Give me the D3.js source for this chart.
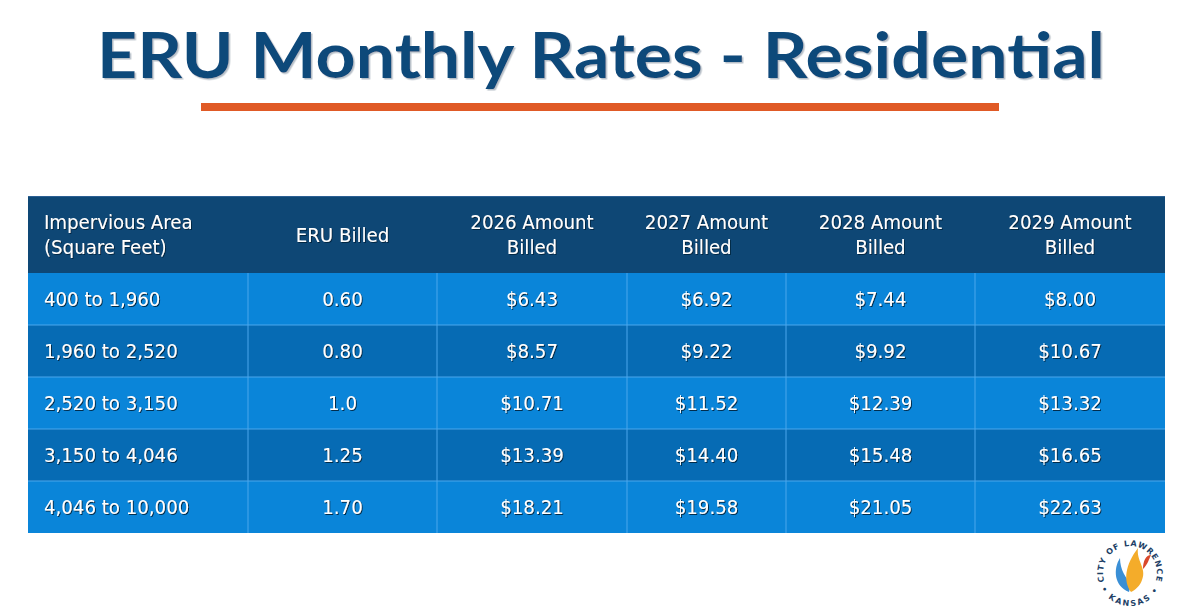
<!DOCTYPE html>
<html lang="en">
<head>
    <meta charset="UTF-8">
    <title>ERU Monthly Rates - Residential</title>
    <script src="https://cdn.jsdelivr.net/npm/d3@7"></script>
    <style>
        body { margin: 0; background: #fff; }
        svg { display: block; }
        .cell-text {
            font-family: "DejaVu Sans Condensed", "DejaVu Sans", sans-serif;
            font-stretch: condensed;
            font-size: 20.2px;
            fill: #fff;
        }
        .title {
            font-family: Lato, "Open Sans", sans-serif;
            font-weight: bold;
            font-size: 63px;
            fill: #0f487a;
        }
        .seal {
            font-family: "DejaVu Sans", sans-serif;
            font-weight: bold;
            font-size: 8px;
            fill: #1d3f66;
        }
    </style>
</head>
<body>
    <svg id="chart" width="1200" height="608"></svg>
    <script>
    // table content
    const headerLines = [
        ["Impervious Area", "(Square Feet)"],
        ["ERU Billed"],
        ["2026 Amount", "Billed"],
        ["2027 Amount", "Billed"],
        ["2028 Amount", "Billed"],
        ["2029 Amount", "Billed"]
    ];
    const areaRanges = ["400 to 1,960", "1,960 to 2,520", "2,520 to 3,150", "3,150 to 4,046", "4,046 to 10,000"];
    const eruBilled = ["0.60", "0.80", "1.0", "1.25", "1.70"];
    const amount2026 = [6.43, 8.57, 10.71, 13.39, 18.21];
    const amount2027 = [6.92, 9.22, 11.52, 14.40, 19.58];
    const amount2028 = [7.44, 9.92, 12.39, 15.48, 21.05];
    const amount2029 = [8.00, 10.67, 13.32, 16.65, 22.63];

    const svg = d3.select("#chart");
    const money = d3.format("$.2f");

    const defs = svg.append("defs");
    // dark shadow on the white table text
    defs.append("filter").attr("id", "txtShadow")
        .attr("x", "-10%").attr("y", "-30%").attr("width", "130%").attr("height", "170%")
        .append("feDropShadow")
        .attr("dx", 1).attr("dy", 1).attr("stdDeviation", 0.4)
        .attr("flood-color", "#06223d").attr("flood-opacity", 0.9);
    // soft grey shadow on the title
    defs.append("filter").attr("id", "titleShadow")
        .attr("x", "-5%").attr("y", "-30%").attr("width", "110%").attr("height", "170%")
        .append("feDropShadow")
        .attr("dx", 1.5).attr("dy", 1.5).attr("stdDeviation", 0.6)
        .attr("flood-color", "#8795a3").attr("flood-opacity", 0.6);

    // title + orange rule
    svg.append("text")
        .attr("class", "title")
        .text("ERU Monthly Rates - Residential")
        .attr("x", 97)
        .attr("y", 78)
        .attr("textLength", 1008)
        .attr("lengthAdjust", "spacingAndGlyphs")
        .attr("filter", "url(#titleShadow)");

    svg.append("rect")
        .attr("x", 201).attr("y", 103)
        .attr("width", 798).attr("height", 8)
        .style("fill", "#e05a26");

    // table geometry
    const tableLeft = 28, headerTop = 196, headerBottom = 273, tableBottom = 533;
    const colWidths = [220, 189, 190, 159, 189, 190];
    const colEdges = [tableLeft];
    colWidths.forEach(w => colEdges.push(colEdges[colEdges.length - 1] + w));
    const tableRight = colEdges[colEdges.length - 1];

    const rowIdx = d3.range(areaRanges.length);
    const y = d3.scaleBand().domain(rowIdx).range([headerBottom, tableBottom]);

    // body rows as arrays of display strings
    const rows = rowIdx.map(i => [
        areaRanges[i], eruBilled[i],
        money(amount2026[i]), money(amount2027[i]), money(amount2028[i]), money(amount2029[i])
    ]);

    // header band
    svg.append("rect")
        .attr("x", tableLeft).attr("y", headerTop)
        .attr("width", tableRight - tableLeft).attr("height", headerBottom - headerTop)
        .style("fill", "#0e4775");
    svg.append("line")
        .attr("x1", tableLeft).attr("x2", tableRight)
        .attr("y1", headerTop + 0.5).attr("y2", headerTop + 0.5)
        .style("stroke", "#2b5f93");

    // row bands (alternating)
    svg.selectAll("rect.row")
        .data(rowIdx)
        .join("rect")
        .attr("class", "row")
        .attr("x", tableLeft)
        .attr("y", d => y(d))
        .attr("width", tableRight - tableLeft)
        .attr("height", y.bandwidth())
        .style("fill", d => d % 2 === 0 ? "#0a85d9" : "#066bb4");

    // grid lines in body
    svg.selectAll("line.hgrid")
        .data(rowIdx.slice(1))
        .join("line")
        .attr("class", "hgrid")
        .attr("x1", tableLeft).attr("x2", tableRight)
        .attr("y1", d => y(d)).attr("y2", d => y(d))
        .style("stroke", "#4aa7ec").style("stroke-width", 1);

    svg.selectAll("line.vgrid")
        .data(colEdges.slice(1, -1))
        .join("line")
        .attr("class", "vgrid")
        .attr("x1", d => d).attr("x2", d => d)
        .attr("y1", headerBottom).attr("y2", tableBottom)
        .style("stroke", "#4aa7ec").style("stroke-width", 1);

    const colX = j => j === 0 ? colEdges[0] + 16 : (colEdges[j] + colEdges[j + 1]) / 2;
    const colAnchor = j => j === 0 ? "start" : "middle";

    // header text
    headerLines.forEach((lines, j) => {
        const mid = (headerTop + headerBottom) / 2;
        const lh = 25;
        const t = svg.append("text")
            .attr("class", "cell-text")
            .attr("text-anchor", colAnchor(j))
            .attr("filter", "url(#txtShadow)");
        lines.forEach((ln, k) => {
            t.append("tspan")
                .attr("x", colX(j))
                .attr("y", mid + 7 + (k - (lines.length - 1) / 2) * lh)
                .text(ln);
        });
    });

    // body text
    rows.forEach((r, i) => {
        svg.selectAll(null)
            .data(r)
            .join("text")
            .attr("class", "cell-text")
            .attr("x", (d, j) => colX(j))
            .attr("y", y(i) + y.bandwidth() / 2 + 7)
            .attr("text-anchor", (d, j) => colAnchor(j))
            .attr("filter", "url(#txtShadow)")
            .text(d => d);
    });

    // City of Lawrence seal (rough)
    const cx = 1130, cy = 573;
    const logo = svg.append("g");
    const a0 = 0.6, rTop = 27;
    defs.append("path").attr("id", "arcTop")
        .attr("d", `M ${cx - rTop * Math.cos(a0)} ${cy + rTop * Math.sin(a0)} A ${rTop} ${rTop} 0 1 1 ${cx + rTop * Math.cos(a0)} ${cy + rTop * Math.sin(a0)}`);
    defs.append("path").attr("id", "arcBot")
        .attr("d", `M ${cx - 33} ${cy} A 33 33 0 0 0 ${cx + 33} ${cy}`);
    logo.append("text")
        .attr("class", "seal")
        .style("letter-spacing", "0.9px")
        .append("textPath").attr("href", "#arcTop").attr("startOffset", "50%")
        .attr("text-anchor", "middle")
        .text("CITY OF LAWRENCE");
    logo.append("text")
        .attr("class", "seal")
        .style("letter-spacing", "1.8px")
        .append("textPath").attr("href", "#arcBot").attr("startOffset", "50%")
        .attr("text-anchor", "middle")
        .text("• KANSAS •");
    // flames
    logo.append("path")
        .attr("d", `M ${cx - 1} ${cy + 19} C ${cx - 16} ${cy + 13} ${cx - 17} ${cy - 4} ${cx - 10} ${cy - 15} C ${cx - 10} ${cy - 3} ${cx - 4} ${cy + 5} ${cx + 1} ${cy + 11} Z`)
        .style("fill", "#3a8fd6");
    logo.append("path")
        .attr("d", `M ${cx + 1} ${cy + 19} C ${cx - 7} ${cy + 8} ${cx - 5} ${cy - 8} ${cx + 8} ${cy - 25} C ${cx + 6} ${cy - 12} ${cx + 17} ${cy - 5} ${cx + 12} ${cy + 7} C ${cx + 10} ${cy + 13} ${cx + 5} ${cy + 17} ${cx + 1} ${cy + 19} Z`)
        .style("fill", "#f4ac2a");
    logo.append("path")
        .attr("d", `M ${cx + 13} ${cy - 4} C ${cx + 13} ${cy - 12} ${cx + 16} ${cy - 18} ${cx + 21} ${cy - 18} C ${cx + 19} ${cy - 14} ${cx + 18} ${cy - 9} ${cx + 13} ${cy - 4} Z`)
        .style("fill", "#d9482b");
    </script>
</body>
</html>
